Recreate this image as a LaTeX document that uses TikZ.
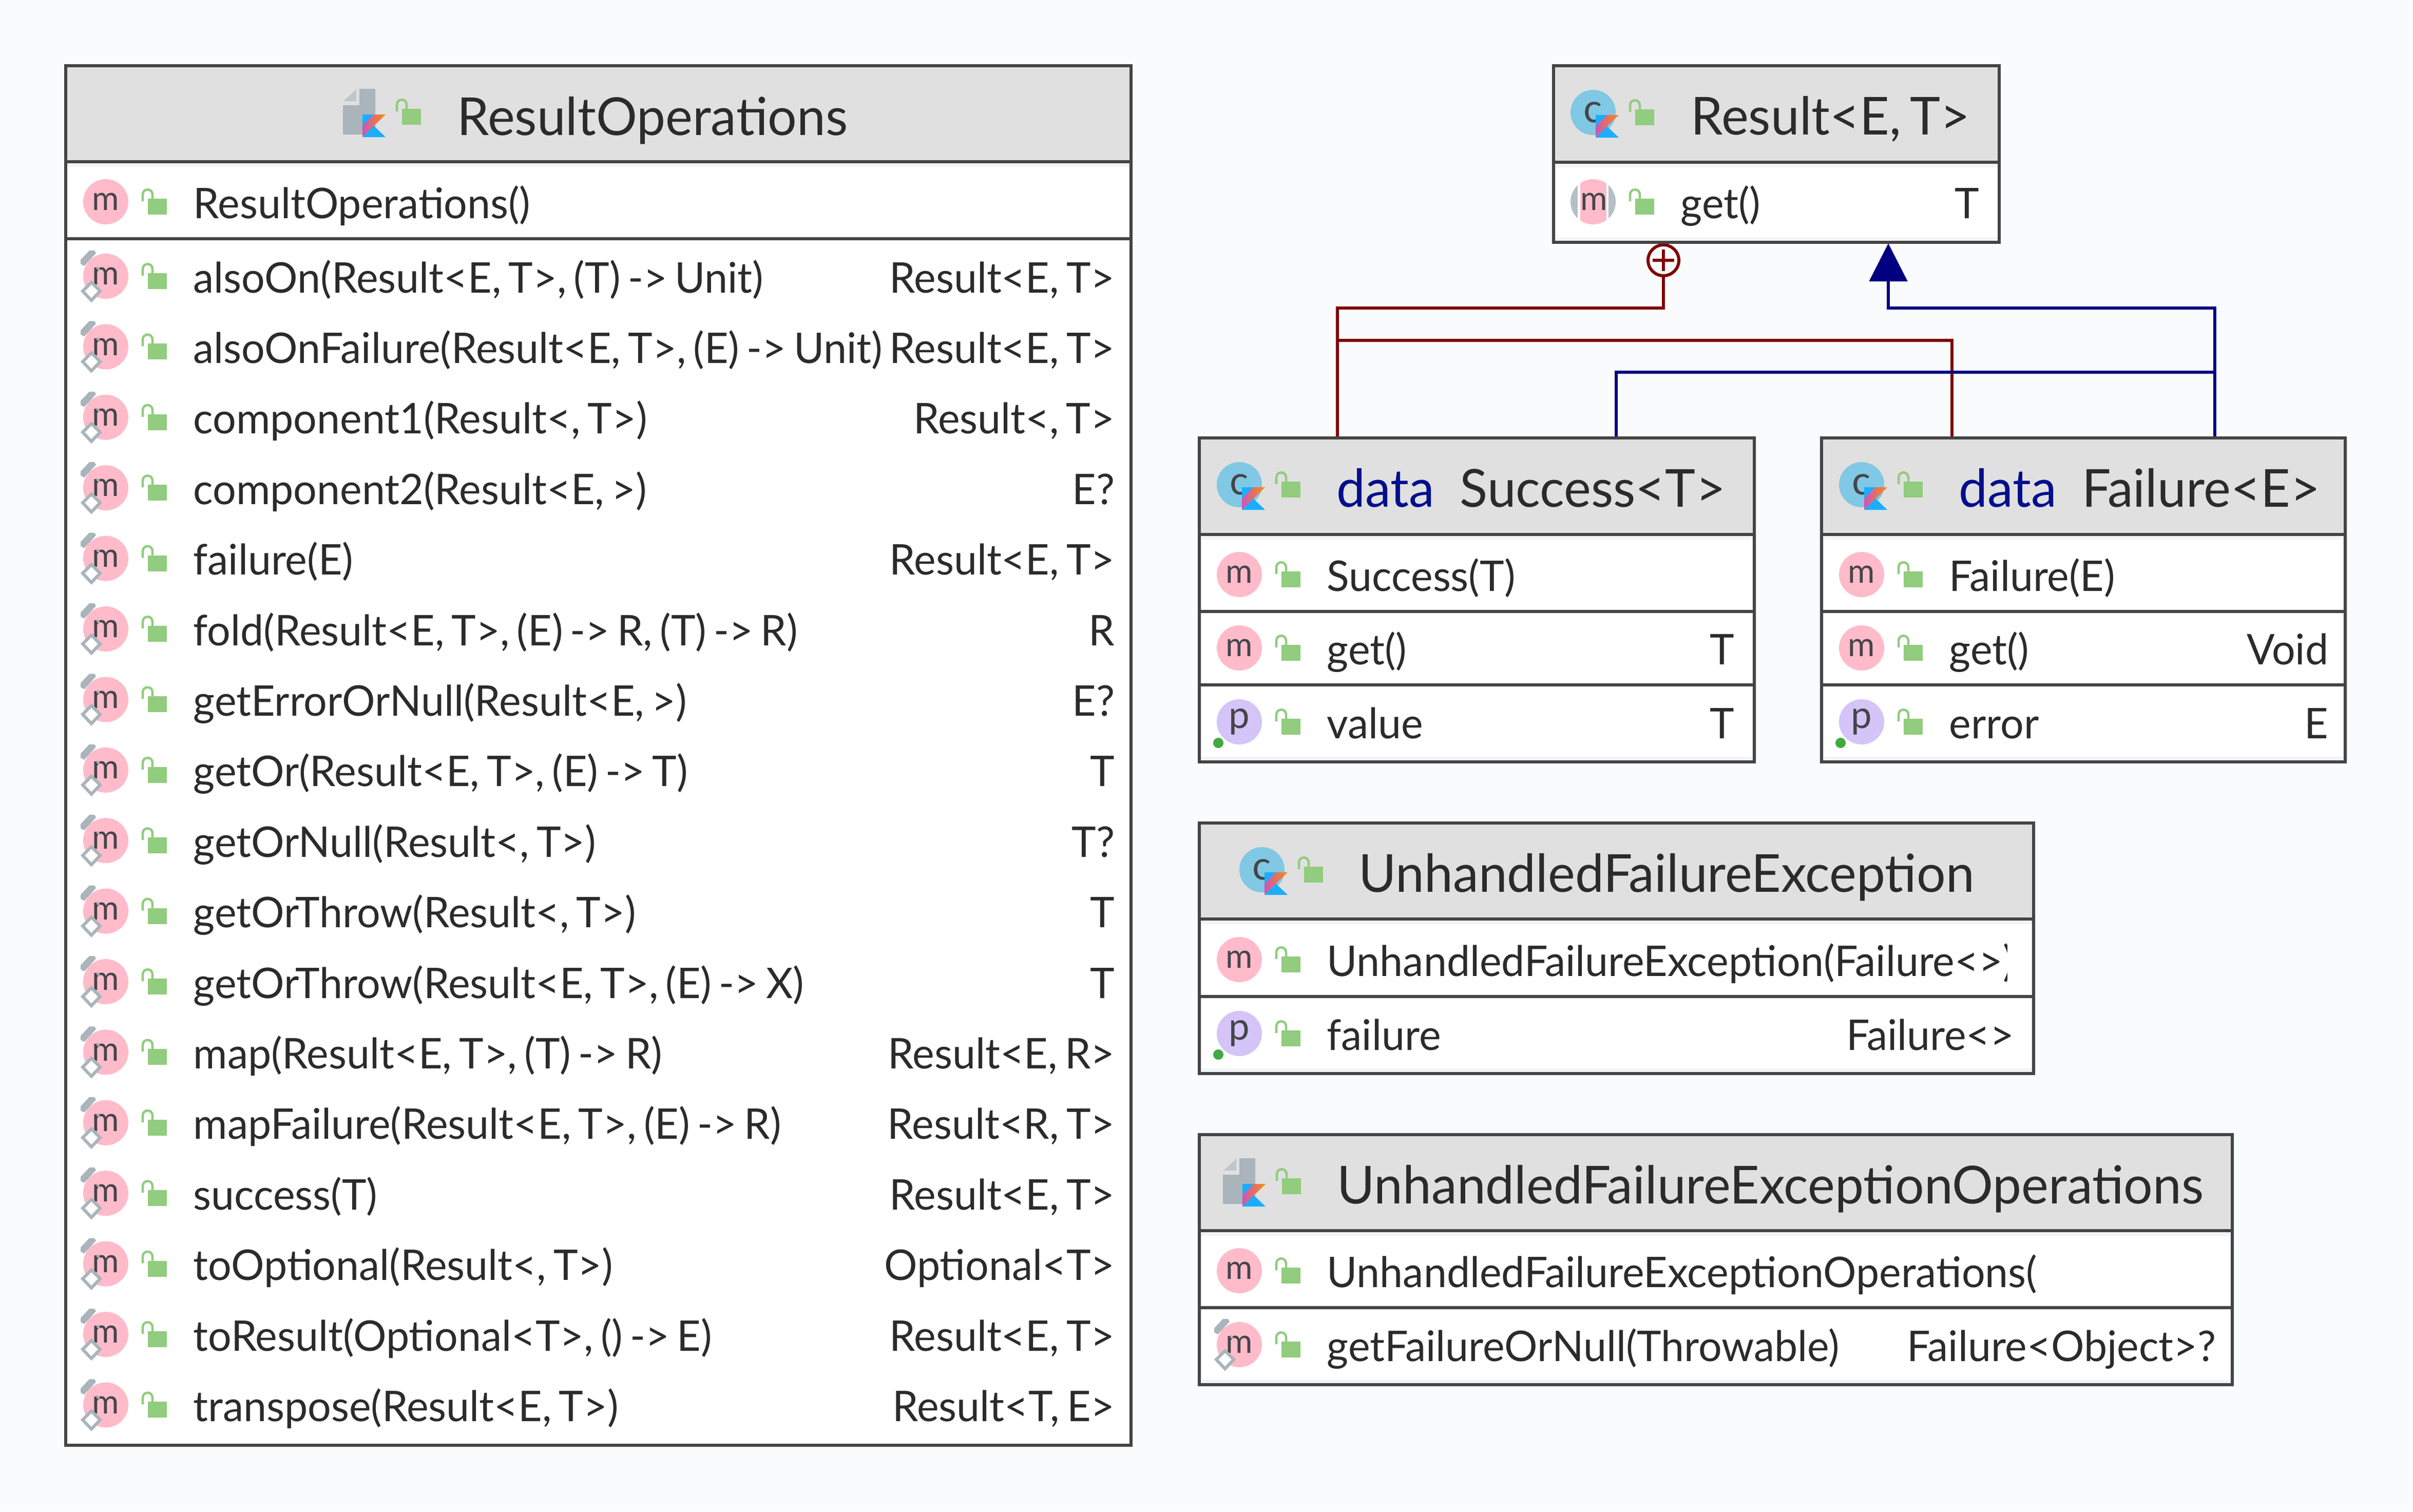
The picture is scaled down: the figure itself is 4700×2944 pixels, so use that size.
\documentclass[tikz,border=0pt]{standalone}
\usepackage{fontspec}
\usepackage{tikz}
\usetikzlibrary{arrows.meta}
\setmainfont{Lato}[FakeStretch=0.98,WordSpace=0.7]
\definecolor{pagebg}{HTML}{FAFBFD}
\definecolor{headbg}{HTML}{E0E0E0}
\definecolor{frameline}{HTML}{444444}
\definecolor{paleband}{HTML}{F3F4F6}
\definecolor{inktext}{HTML}{2B2B2B}
\definecolor{keyword}{HTML}{000F8C}
\definecolor{methodpink}{HTML}{FFBBCA}
\definecolor{proppurple}{HTML}{D4C4F7}
\definecolor{classcyan}{HTML}{80C8E3}
\definecolor{iconink}{HTML}{45454A}
\definecolor{lockgreen}{HTML}{92CC7E}
\definecolor{iconshade}{HTML}{A9B4BB}
\definecolor{kblue}{HTML}{19AEFF}
\definecolor{korange}{HTML}{FF8A0A}
\definecolor{kpink}{HTML}{C757BC}
\definecolor{nestred}{HTML}{800000}
\definecolor{extendblue}{HTML}{000080}
\tikzset{
	headbox/.style={rectangle,draw=frameline,fill=headbg,line width=1.56pt,anchor=north west,inner sep=0pt,outer sep=0pt},
	partbox/.style={rectangle,draw=frameline,fill=white,line width=1.56pt,anchor=north west,inner sep=0pt,outer sep=0pt},
	headtext/.style={anchor=base west,inner sep=0pt,text=inktext,font=\fontsize{29}{32}\selectfont},
	rowtext/.style={anchor=base west,inner sep=0pt,text=inktext,font=\fontsize{23.4}{28}\selectfont},
	typetext/.style={anchor=base east,inner sep=0pt,text=inktext,font=\fontsize{23.4}{28}\selectfont},
	iconbase/.style={circle,minimum size=0.88cm,inner sep=0pt,text=iconink,font=\fontsize{18.5}{18}\selectfont},
	methodicon/.style={iconbase,fill=methodpink},
	propicon/.style={iconbase,fill=proppurple,font=\fontsize{21}{21}\selectfont},
	classicon/.style={iconbase,fill=classcyan,font=\fontsize{22}{22}\selectfont},
	nestline/.style={draw=nestred,line width=1.5pt},
	extendline/.style={draw=extendblue,line width=1.5pt}
}
% #1 name, #2 left, #3 top, #4 right, #5 bottom
\newcommand{\headpart}[5]{
	\path (#2,#3) node(#1)[headbox,minimum width={(#4-#2)*0.01cm},minimum height={(#5-#3)*0.01cm}] {};
	\fill[paleband] (#2+3,#5+3) rectangle (#4-3,#5+10);
}
\newcommand{\rowpart}[5]{
	\path (#2,#3) node(#1)[partbox,minimum width={(#4-#2)*0.01cm},minimum height={(#5-#3)*0.01cm}] {};
}
\newcommand{\kotlinmark}[2]{
	\begin{scope}[shift={(#1,#2)}]
		\fill[kblue] (5,5) -- (27,5) -- (5,27) -- cycle;
		\fill[kblue] (5,49) -- (27,27) -- (50,49) -- cycle;
		\shade[left color=kpink,right color=korange] (27,5) -- (50,5) -- (5,49) -- (5,27) -- cycle;
	\end{scope}
}
\newcommand{\lockmark}[2]{
	\begin{scope}[shift={(#1,#2)}]
		\fill[lockgreen] (82,-6) rectangle (119,25);
		\draw[lockgreen,line width=1.3pt] (72,-1) -- (72,-14) .. controls (72,-27) and (91,-27) .. (91,-14) -- (91,-6);
	\end{scope}
}
\newcommand{\extmark}[2]{
	\begin{scope}[shift={(#1,#2)}]
		\fill[iconshade] (-22,-50) -- (-19,-45) -- (-42,-20) -- (-49,-24) -- (-49,-32) -- (-32,-50) -- cycle;
		\draw[iconshade,line width=1pt] (-17,-18) -- (-13,-12);
		\draw[iconshade,fill=white,line width=1.7pt] (-28,12) -- (-11,29) -- (-28,47) -- (-45,29) -- cycle;
	\end{scope}
}
\newcommand{\filemark}[2]{
	\begin{scope}[shift={(#1,#2)}]
		\fill[iconshade] (-1,-45) -- (30,-45) -- (30,44) -- (-33,44) -- (-33,-13) -- (-1,-13) -- cycle;
		\fill[iconshade!75!white] (-7,-44) -- (-7,-21) -- (-32,-21) -- cycle;
	\end{scope}
}
\newcommand{\propdot}[2]{
	\fill[green!55!black!75!white] ({#1-41},{#2+41}) circle (0.1cm);
}
% #1 name, #2 icon x, #3 icon y, #4 text
\newcommand{\rowlabel}[4]{
	\lockmark{#2}{#3}
	\path ({#2+170},{#3+32}) node(#1t)[rowtext] {#4};
}
\newcommand{\methodrow}[4]{
	\path (#2,#3) node(#1)[methodicon] {m};
	\rowlabel{#1}{#2}{#3}{#4}
}
\newcommand{\extrow}[4]{
	\path (#2,#3) node(#1)[methodicon] {m};
	\extmark{#2}{#3}
	\rowlabel{#1}{#2}{#3}{#4}
}
\newcommand{\proprow}[4]{
	\path (#2,#3) node(#1)[propicon] {p};
	\propdot{#2}{#3}
	\rowlabel{#1}{#2}{#3}{#4}
}
\newcommand{\typelabel}[4]{
	\path (#2,{#3+32}) node(#1r)[typetext] {#4};
}
\begin{document}
\begin{tikzpicture}[x=0.01cm,y=-0.01cm]
	\useasboundingbox (0,0) rectangle (4700,2944);
	\fill[pagebg] (0,0) rectangle (4700,2944);

	% connectors first, the boxes sit on their ends
	\coordinate (nestbend) at (2605,600);
	\coordinate (nesttap) at (2605,663);
	\coordinate (successred) at (2605,853);
	\coordinate (failurered) at (3802,853);
	\coordinate (tipbase) at (3678,600);
	\coordinate (arrowtip) at (3678,474);
	\coordinate (failureblue) at (4314,853);
	\coordinate (successblue) at (3148,853);
	\coordinate (bluejoin) at (4314,725);
	\path (3240,507) node(nest)[circle,nestline,line width=1.7pt,fill=pagebg,minimum size=0.6cm,inner sep=0pt] {};
	\draw[nestline] (nest.south) |- (nestbend) -- (successred);
	\draw[nestline] (nesttap) -| (failurered);
	\draw[nestline,line width=1.7pt] (nest.center) ++(-21,0) -- ++(42,0);
	\draw[nestline,line width=1.7pt] (nest.center) ++(0,-21) -- ++(0,42);
	\draw[extendline,-{Triangle[length=0.74cm,width=0.74cm]}] (failureblue) |- (tipbase) -- (arrowtip);
	\draw[extendline] (successblue) |- (bluejoin);

	% ResultOperations
	\rowpart{opinit}{128}{315}{2203}{465}
	\rowpart{opfuns}{128}{465}{2203}{2815}
	\headpart{ophead}{128}{128}{2203}{315}
	\filemark{701}{218}
	\kotlinmark{701}{218}
	\lockmark{701}{218}
	\path (890,263) node(optitle)[headtext] {ResultOperations};
	\methodrow{opm}{206}{393}{ResultOperations()}
	\foreach \i/\mtext/\mtype in {
		0/{alsoOn(Result<E, T>, (T) -> Unit)}/{Result<E, T>},
		1/{alsoOnFailure(Result<E, T>, (E) -> Unit)}/{Result<E, T>},
		2/{component1(Result<, T>)}/{Result<, T>},
		3/{component2(Result<E, >)}/{E?},
		4/{failure(E)}/{Result<E, T>},
		5/{fold(Result<E, T>, (E) -> R, (T) -> R)}/{R},
		6/{getErrorOrNull(Result<E, >)}/{E?},
		7/{getOr(Result<E, T>, (E) -> T)}/{T},
		8/{getOrNull(Result<, T>)}/{T?},
		9/{getOrThrow(Result<, T>)}/{T},
		10/{getOrThrow(Result<E, T>, (E) -> X)}/{T},
		11/{map(Result<E, T>, (T) -> R)}/{Result<E, R>},
		12/{mapFailure(Result<E, T>, (E) -> R)}/{Result<R, T>},
		13/{success(T)}/{Result<E, T>},
		14/{toOptional(Result<, T>)}/{Optional<T>},
		15/{toResult(Optional<T>, () -> E)}/{Result<E, T>},
		16/{transpose(Result<E, T>)}/{Result<T, E>}} {
		\pgfmathsetmacro{\rowy}{538+\i*137.4}
		\extrow{opx\i}{206}{\rowy}{\mtext}
		\typelabel{opx\i}{2172}{\rowy}{\mtype}
	}

	% Result
	\rowpart{reget}{3026}{316}{3894}{472}
	\headpart{rehead}{3026}{128}{3894}{316}
	\fill[paleband] (3029,462) rectangle (3891,469);
	\path (3103,219) node(reicon)[classicon] {c};
	\kotlinmark{3103}{219}
	\lockmark{3103}{219}
	\path (3293,262) node(retitle)[headtext] {Result<E, T>};
	\fill[iconshade!85!white] (3103,393) circle (0.44cm);
	\fill[white] (3073,345) rectangle (3133,441);
	\begin{scope}
		\clip (3078,345) rectangle (3129,441);
		\fill[methodpink] (3103,393) circle (0.44cm);
	\end{scope}
	\path (3105,393) node(rem)[iconbase,minimum size=0.5cm] {m};
	\rowlabel{rem}{3103}{393}{get()}
	\typelabel{rem}{3856}{393}{T}

	% Success
	\rowpart{suinit}{2336}{1041}{3417}{1191}
	\rowpart{suget}{2336}{1191}{3417}{1334}
	\rowpart{suval}{2336}{1334}{3417}{1484}
	\headpart{suhead}{2336}{853}{3417}{1041}
	\fill[paleband] (2339,1474) rectangle (3414,1481);
	\path (2414,944) node(suicon)[classicon] {c};
	\kotlinmark{2414}{944}
	\lockmark{2414}{944}
	\path (2603,987) node(sutitle)[headtext] {\textcolor{keyword}{data}\hspace{9pt} Success<T>};
	\methodrow{sua}{2414}{1119}{Success(T)}
	\methodrow{sub}{2414}{1262}{get()}
	\typelabel{sub}{3379}{1262}{T}
	\proprow{suc}{2414}{1406}{value}
	\typelabel{suc}{3379}{1406}{T}

	% Failure
	\rowpart{fainit}{3548}{1041}{4568}{1191}
	\rowpart{faget}{3548}{1191}{4568}{1334}
	\rowpart{faerr}{3548}{1334}{4568}{1484}
	\headpart{fahead}{3548}{853}{4568}{1041}
	\fill[paleband] (3551,1474) rectangle (4565,1481);
	\path (3626,944) node(faicon)[classicon] {c};
	\kotlinmark{3626}{944}
	\lockmark{3626}{944}
	\path (3815,987) node(fatitle)[headtext] {\textcolor{keyword}{data}\hspace{9pt} Failure<E>};
	\methodrow{faa}{3626}{1119}{Failure(E)}
	\methodrow{fab}{3626}{1262}{get()}
	\typelabel{fab}{4536}{1262}{Void}
	\proprow{fac}{3626}{1406}{error}
	\typelabel{fac}{4536}{1406}{E}

	% UnhandledFailureException
	\rowpart{ueinit}{2336}{1790}{3961}{1941}
	\rowpart{uefail}{2336}{1941}{3961}{2091}
	\headpart{uehead}{2336}{1603}{3961}{1790}
	\fill[paleband] (2339,2081) rectangle (3958,2088);
	\path (2458,1694) node(ueicon)[classicon] {c};
	\kotlinmark{2458}{1694}
	\lockmark{2458}{1694}
	\path (2646,1737) node(uetitle)[headtext] {UnhandledFailureException};
	\begin{scope}
		\clip (2336,1800) rectangle (3909,1930);
		\methodrow{uea}{2414}{1869}{UnhandledFailureException(Failure<>)}
	\end{scope}
	\proprow{ueb}{2414}{2013}{failure}
	\typelabel{ueb}{3924}{2013}{Failure<>}

	% UnhandledFailureExceptionOperations
	\rowpart{uoinit}{2336}{2397}{4348}{2547}
	\rowpart{uoget}{2336}{2547}{4348}{2697}
	\headpart{uohead}{2336}{2210}{4348}{2397}
	\fill[paleband] (2339,2687) rectangle (4345,2694);
	\filemark{2415}{2301}
	\kotlinmark{2415}{2301}
	\lockmark{2415}{2301}
	\path (2604,2344) node(uotitle)[headtext] {UnhandledFailureExceptionOperations};
	\methodrow{uoa}{2414}{2475}{UnhandledFailureExceptionOperations(}
	\extrow{uob}{2414}{2619}{getFailureOrNull(Throwable)}
	\typelabel{uob}{4317}{2619}{Failure<Object>?}
\end{tikzpicture}
\end{document}
